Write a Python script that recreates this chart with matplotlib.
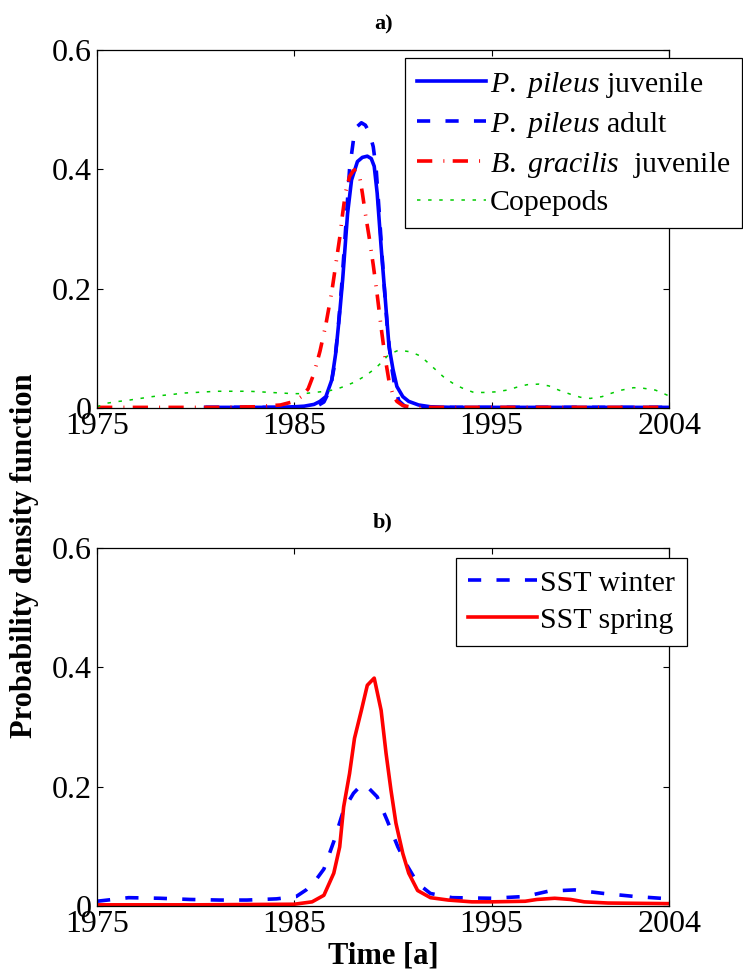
import numpy as np
import matplotlib
matplotlib.use('Agg')
import matplotlib.pyplot as plt

plt.rcParams['font.family'] = ['Liberation Serif', 'DejaVu Serif']
plt.rcParams['mathtext.fontset'] = 'custom'
plt.rcParams['mathtext.rm'] = 'Liberation Serif'
plt.rcParams['mathtext.it'] = 'Liberation Serif:italic'
plt.rcParams['lines.scale_dashes'] = False

# --------------------------------------------------
# data
# --------------------------------------------------
# a) P. pileus juvenile
juv_year = [1980.5, 1982, 1984, 1985, 1985.5, 1986, 1986.3, 1986.6, 1986.9, 1987.1, 1987.3,
            1987.45, 1987.7, 1987.9, 1988.2, 1988.45, 1988.7, 1988.9, 1989.05, 1989.2, 1989.4,
            1989.6, 1989.8, 1990.0, 1990.2, 1990.5, 1990.8, 1991.3, 1991.9, 1993, 1996, 2000, 2004]
juv_pdf = [0.001, 0.001, 0.001, 0.002, 0.003, 0.006, 0.011, 0.019, 0.047, 0.092, 0.159,
           0.215, 0.326, 0.382, 0.413, 0.420, 0.422, 0.418, 0.405, 0.360, 0.270,
           0.187, 0.103, 0.065, 0.036, 0.019, 0.011, 0.005, 0.002, 0.001, 0.001, 0.001, 0.001]

# a) P. pileus adult
adu_year = [1980.5, 1984, 1986.0, 1986.2, 1986.5, 1986.8, 1987.0, 1987.2, 1987.4, 1987.6, 1987.8,
            1988.0, 1988.2, 1988.4, 1988.6, 1988.8, 1989.0, 1989.15, 1989.3, 1989.5, 1989.7,
            1989.9, 1990.1, 1990.3, 1990.6, 1991.0, 1993, 1997, 2001, 2004]
adu_pdf = [0.001, 0.001, 0.002, 0.004, 0.010, 0.030, 0.065, 0.125, 0.205, 0.300, 0.400,
           0.450, 0.472, 0.478, 0.474, 0.462, 0.438, 0.400, 0.330, 0.230, 0.140,
           0.075, 0.035, 0.012, 0.003, 0.001, 0.001, 0.001, 0.001, 0.001]

# a) B. gracilis juvenile
gra_year = [1975, 1978, 1981, 1983, 1984.3, 1985.0, 1985.4, 1985.7, 1986.0, 1986.3, 1986.6,
            1986.9, 1987.1, 1987.3, 1987.45, 1987.6, 1987.8, 1988.0, 1988.15, 1988.3, 1988.45,
            1988.6, 1988.8, 1989.0, 1989.2, 1989.4, 1989.6, 1989.8, 1990.0, 1990.2, 1990.5,
            1991.0, 1992, 1996, 2000, 2004]
gra_pdf = [0.001, 0.001, 0.001, 0.002, 0.005, 0.011, 0.020, 0.032, 0.058, 0.095, 0.140,
           0.195, 0.240, 0.285, 0.326, 0.362, 0.388, 0.398, 0.400, 0.390, 0.360,
           0.326, 0.285, 0.240, 0.190, 0.135, 0.085, 0.045, 0.022, 0.011, 0.004,
           0.001, 0.001, 0.001, 0.001, 0.001]

# a) Copepods
cop_year = [1975.0, 1975.5, 1976.1, 1976.6, 1977.2, 1977.8, 1978.3, 1978.9, 1979.4, 1980.0,
            1980.5, 1981.1, 1981.6, 1982.2, 1982.7, 1983.3, 1983.8, 1984.4, 1984.9, 1985.5,
            1986.0, 1986.6, 1987.1, 1987.6, 1988.1, 1988.6, 1989.1, 1989.5, 1989.8, 1990.3,
            1990.9, 1991.4, 1991.8, 1992.2, 1992.6, 1993.1, 1993.6, 1994.1, 1994.7, 1995.2,
            1995.8, 1996.3, 1996.8, 1997.4, 1997.9, 1998.4, 1999.0, 1999.5, 2000.0, 2000.6,
            2001.1, 2001.6, 2002.2, 2002.7, 2003.3, 2003.8, 2004.0]
cop_pdf = [0.002, 0.008, 0.011, 0.013, 0.016, 0.019, 0.021, 0.023, 0.025, 0.026,
           0.027, 0.028, 0.028, 0.028, 0.028, 0.027, 0.026, 0.025, 0.024, 0.024,
           0.026, 0.028, 0.031, 0.037, 0.044, 0.054, 0.066, 0.079, 0.090, 0.097,
           0.094, 0.087, 0.075, 0.063, 0.051, 0.040, 0.032, 0.026, 0.026, 0.027,
           0.030, 0.035, 0.039, 0.040, 0.037, 0.030, 0.023, 0.018, 0.016, 0.019,
           0.025, 0.030, 0.034, 0.033, 0.030, 0.023, 0.020]

# b) SST winter
win_year = [1975.0, 1976.6, 1978.2, 1979.7, 1981.2, 1982.6, 1984.1, 1985.1, 1985.6, 1986.1,
            1986.5, 1987.0, 1987.5, 1988.0, 1988.4, 1988.7, 1989.2, 1989.7, 1990.25, 1990.75,
            1991.25, 1991.9, 1993.0, 1995.0, 1996.7, 1997.9, 1999.2, 2000.7, 2002.25, 2004.0]
win_pdf = [0.008, 0.014, 0.013, 0.011, 0.010, 0.010, 0.012, 0.016, 0.027, 0.044,
           0.062, 0.108, 0.161, 0.189, 0.203, 0.200, 0.183, 0.144, 0.099, 0.066,
           0.038, 0.021, 0.014, 0.013, 0.016, 0.025, 0.027, 0.021, 0.016, 0.012]

# b) SST spring
spr_year = [1975.0, 1980, 1985.0, 1985.9, 1986.5, 1987.0, 1987.3, 1987.5, 1987.8, 1988.05,
            1988.4, 1988.7, 1989.05, 1989.4, 1989.65, 1989.9, 1990.15, 1990.5, 1990.8, 1991.25,
            1991.9, 1992.8, 1994.0, 1995.0, 1996.7, 1997.3, 1998.2, 1999.0, 1999.7, 2000.9,
            2004.0]
spr_pdf = [0.002, 0.002, 0.003, 0.007, 0.018, 0.055, 0.099, 0.166, 0.222, 0.281,
           0.328, 0.370, 0.382, 0.328, 0.256, 0.194, 0.139, 0.088, 0.055, 0.026,
           0.014, 0.010, 0.007, 0.007, 0.008, 0.011, 0.013, 0.011, 0.007, 0.005,
           0.004]

xticks = [1975, 1985, 1995, 2004]
yticks = [0, 0.2, 0.4, 0.6]
yticklabels = ['0', '0.2', '0.4', '0.6']

BLUE = (0, 0, 1)
RED = (1, 0, 0)
GREEN = (0, 0.8, 0)

dash = (0, (9.5, 11))
dashdot = (0, (11, 8, 0.7, 6))
dots = (0, (2.5, 5.5))


def style_axes(ax):
    ax.set_xlim(1975, 2004)
    ax.set_ylim(0, 0.6)
    ax.set_xticks(xticks)
    ax.set_xticklabels([str(t) for t in xticks])
    ax.set_yticks(yticks)
    ax.set_yticklabels(yticklabels)
    ax.tick_params(direction='in', length=4, width=0.8, top=True, right=True,
                   labelsize=23)
    ax.tick_params(axis='x', pad=3)
    ax.tick_params(axis='y', pad=4)
    for sp in ax.spines.values():
        sp.set_linewidth(0.9)


fig = plt.figure(figsize=(7.43, 9.76), dpi=100)
ax1 = fig.add_axes([0.1306, 0.582, 0.770, 0.3668])
ax2 = fig.add_axes([0.1306, 0.0717, 0.770, 0.3668])

ax1.plot(juv_year, juv_pdf, color=BLUE, lw=2.6, label=r'$\it{P.\ pileus}$ juvenile')
ax1.plot(adu_year, adu_pdf, color=BLUE, lw=2.6, linestyle=dash, dash_capstyle='butt',
         label=r'$\it{P.\ pileus}$ adult')
ax1.plot(gra_year, gra_pdf, color=RED, lw=2.6, linestyle=dashdot, dash_capstyle='butt',
         label=r'$\it{B.\ gracilis}$  juvenile')
ax1.plot(cop_year, cop_pdf, color=GREEN, lw=1.1, linestyle=dots, dash_capstyle='butt',
         label='Copepods')
style_axes(ax1)
ax1.set_title('a)', fontsize=16, fontweight='bold', pad=15)

ax2.plot(win_year, win_pdf, color=BLUE, lw=2.6, linestyle=dash, dash_capstyle='butt',
         label='SST winter')
ax2.plot(spr_year, spr_pdf, color=RED, lw=2.6, label='SST spring')
style_axes(ax2)
ax2.set_title('b)', fontsize=16, fontweight='bold', pad=15)

leg_kw = dict(fontsize=21.5, handlelength=2.3, handletextpad=0.12, labelspacing=0.33,
              borderpad=0.4, borderaxespad=0, fancybox=False, framealpha=1,
              edgecolor='black', loc='upper right')
leg1 = ax1.legend(bbox_to_anchor=(742 / 743, 1 - 58 / 976),
                  bbox_transform=fig.transFigure, **leg_kw)
leg1.get_frame().set_linewidth(0.9)
leg2 = ax2.legend(bbox_to_anchor=(687 / 743, 1 - 558 / 976),
                  bbox_transform=fig.transFigure, **leg_kw)
leg2.get_frame().set_linewidth(0.9)

fig.text(25 / 743, 1 - 556 / 976, 'Probability density function', rotation=90,
         ha='center', va='center', fontsize=22, fontweight='bold')
ax2.set_xlabel('Time [a]', fontsize=22, fontweight='bold', labelpad=2)

fig.savefig('out.png', dpi=100)
